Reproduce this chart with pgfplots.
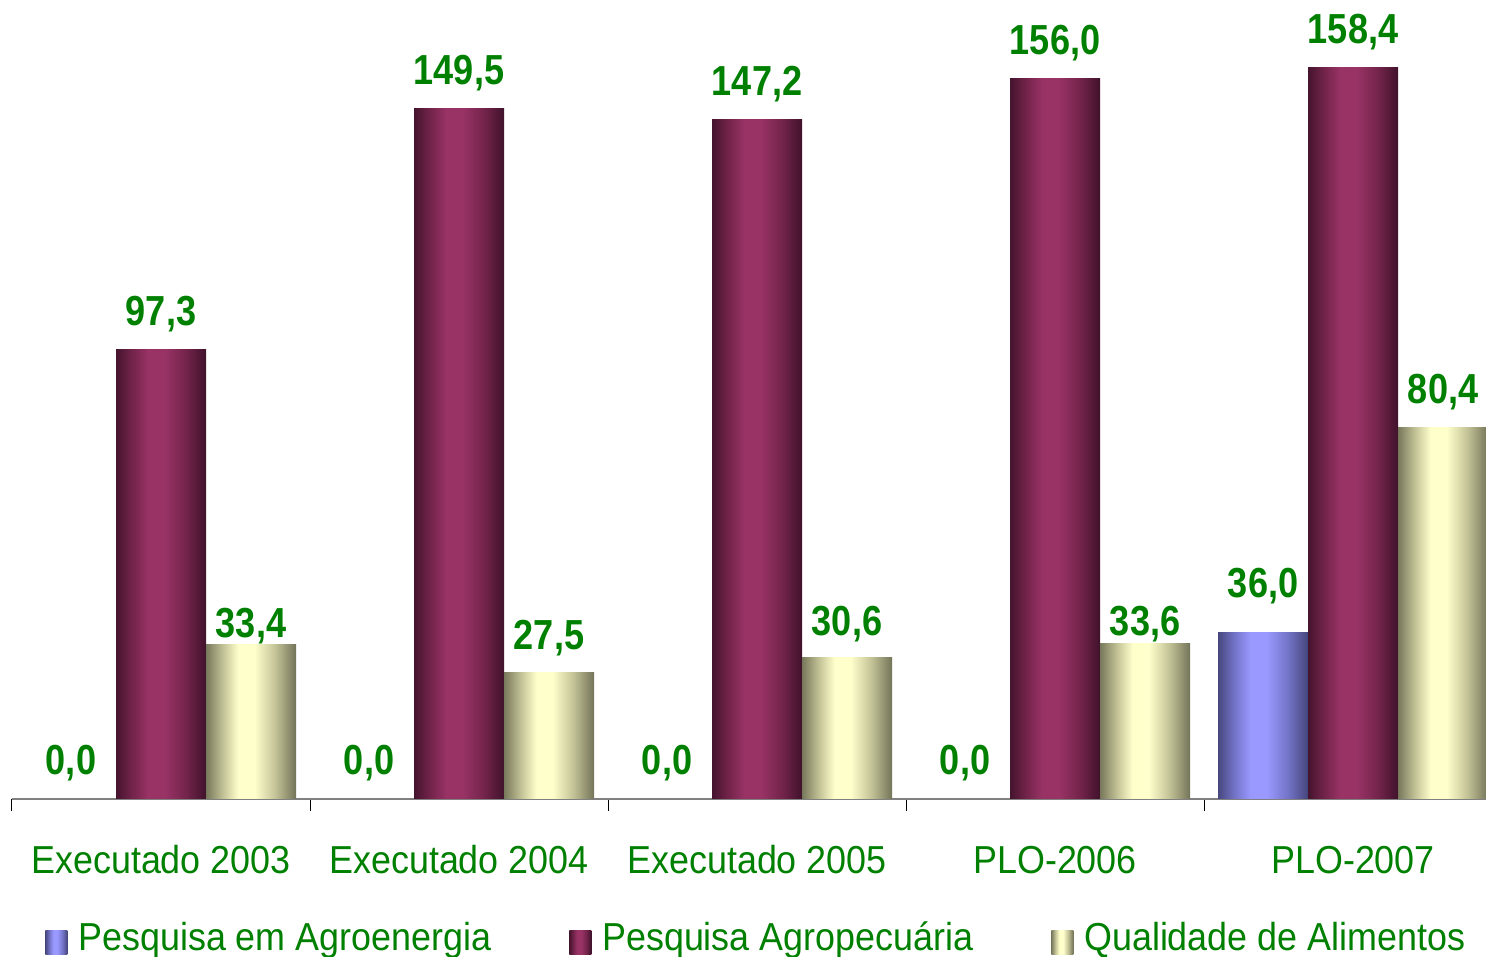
\documentclass[border=0pt]{standalone}
\usepackage{fontspec}
\setmainfont{Liberation Sans}[FakeStretch=0.92]
\newfontfamily\labfont{Liberation Sans}[FakeStretch=0.86]
\usepackage{pgfplots}
\pgfplotsset{compat=1.18}
\definecolor{txtgreen}{RGB}{0,128,0}
\pgfdeclarehorizontalshading{magbar}{100bp}{rgb(0bp)=(0.27,0.08,0.18); rgb(25bp)=(0.27,0.08,0.18); rgb(34bp)=(0.45,0.14,0.29); rgb(43bp)=(0.6,0.2,0.4); rgb(52bp)=(0.6,0.2,0.4); rgb(64bp)=(0.45,0.14,0.29); rgb(75bp)=(0.25,0.07,0.17); rgb(100bp)=(0.25,0.07,0.17)}
\pgfdeclarehorizontalshading{yelbar}{100bp}{rgb(0bp)=(0.47,0.47,0.36); rgb(25bp)=(0.47,0.47,0.36); rgb(34bp)=(0.75,0.75,0.58); rgb(43bp)=(1,1,0.8); rgb(52bp)=(1,1,0.8); rgb(64bp)=(0.75,0.75,0.58); rgb(75bp)=(0.45,0.45,0.35); rgb(100bp)=(0.45,0.45,0.35)}
\pgfdeclarehorizontalshading{blubar}{100bp}{rgb(0bp)=(0.28,0.28,0.5); rgb(25bp)=(0.28,0.28,0.5); rgb(34bp)=(0.45,0.45,0.78); rgb(43bp)=(0.6,0.6,1); rgb(52bp)=(0.6,0.6,1); rgb(64bp)=(0.45,0.45,0.78); rgb(75bp)=(0.27,0.27,0.48); rgb(100bp)=(0.27,0.27,0.48)}
\pgfplotsset{
  blu/.style={ybar, bar shift=-0.302, draw=none, shade, shading=blubar, forget plot, nodes near coords style={xshift=-45pt}},
  bluzero/.style={ybar, bar shift=-0.302, draw=none, fill=none, forget plot, nodes near coords style={xshift=-45pt}},
  mag/.style={ybar, bar shift=0, draw=none, shade, shading=magbar, forget plot},
  yel/.style={ybar, bar shift=0.302, draw=none, shade, shading=yelbar, forget plot, nodes near coords style={xshift=45pt}},
}
\begin{document}
\begin{tikzpicture}
\begin{axis}[name=ax, scale only axis, width=737pt, height=399.5pt,
  xmin=-0.5, xmax=4.446, ymin=0, ymax=173.1,
  axis x line*=bottom, axis y line=none,
  x axis line style={draw=gray, line width=0.6pt},
  xtick={-0.5,0.5,1.5,2.5,3.5},
  xticklabels={Executado 2003,Executado 2004,Executado 2005,PLO-2006,PLO-2007},
  tick align=outside, major tick length=6pt,
  xtick style={draw=black, line width=0.5pt},
  xticklabel style={anchor=base, yshift=-31.5pt, xshift=74.5pt, font=\fontsize{19.5}{22}\selectfont, text=txtgreen},
  ytick=\empty,
  bar width=0.302,
  nodes near coords,
  nodes near coords style={font=\labfont\bfseries\fontsize{21}{24}\selectfont, text=txtgreen, anchor=base, yshift=12pt},
  legend columns=3,
  legend style={draw=none, fill=none, at={(axis description cs:0,0)}, anchor=south west, xshift=16.5pt, yshift=-78.1pt, inner sep=0pt, nodes={inner sep=0pt, anchor=base}, font=\fontsize{19.5}{22}\selectfont, text=txtgreen, /tikz/every even column/.append style={column sep=39pt}, /tikz/every odd column/.append style={column sep=5.5pt}},
  legend image code/.code={\path[#1, draw=none] (0pt,-2pt) rectangle (11pt,10pt);},
  /pgf/number format/fixed, /pgf/number format/fixed zerofill, /pgf/number format/precision=1, /pgf/number format/use comma, /pgf/number format/assume math mode=true,
]
% Pesquisa em Agroenergia
\addplot[bluzero] coordinates {(0,0)};
\addplot[bluzero] coordinates {(1,0)};
\addplot[bluzero] coordinates {(2,0)};
\addplot[bluzero] coordinates {(3,0)};
\addplot[blu, nodes near coords style={yshift=5.5pt}] coordinates {(4,36.0)};
% Pesquisa Agropecuaria
\addplot[mag] coordinates {(0,97.3)};
\addplot[mag] coordinates {(1,149.5)};
\addplot[mag] coordinates {(2,147.2)};
\addplot[mag] coordinates {(3,156.0)};
\addplot[mag] coordinates {(4,158.4)};
% Qualidade de Alimentos
\addplot[yel, nodes near coords style={yshift=-8.5pt}] coordinates {(0,33.4)};
\addplot[yel, nodes near coords style={yshift=-0.5pt}] coordinates {(1,27.5)};
\addplot[yel, nodes near coords style={yshift=-1pt}] coordinates {(2,30.6)};
\addplot[yel, nodes near coords style={yshift=-8pt}] coordinates {(3,33.6)};
\addplot[yel] coordinates {(4,80.4)};
\addlegendimage{shade, shading=blubar}
\addlegendentry{Pesquisa em Agroenergia}
\addlegendimage{shade, shading=magbar}
\addlegendentry{Pesquisa Agropecuária}
\addlegendimage{shade, shading=yelbar}
\addlegendentry{Qualidade de Alimentos}
\end{axis}
\pgfresetboundingbox
\path[use as bounding box] (ax.south west) ++(-6pt,-79pt) rectangle (ax.north east);
\end{tikzpicture}
\end{document}
